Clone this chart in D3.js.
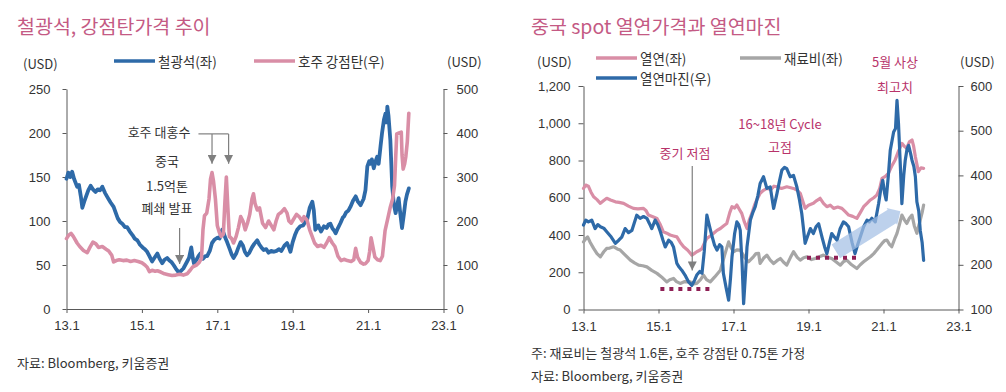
<!DOCTYPE html>
<html>
<head>
<meta charset="utf-8">
<script src="https://cdn.jsdelivr.net/npm/d3@7"></script>
<style>
  body { margin: 0; background: #fff; }
  svg { font-family: "Noto Sans CJK KR", "Noto Sans", sans-serif; }
  .tick text { fill: #333; font-size: 13px; }
  .axis path, .axis line { stroke: #595959; }
</style>
</head>
<body>
<svg id="chart" width="1006" height="392"></svg>
<script>
// x: decimal year (13 = Jan 2013)
const xTicks = [13, 15, 17, 19, 21, 23];
const oreTicks = [0, 50, 100, 150, 200, 250];
const coalTicks = [0, 100, 200, 300, 400, 500];
const hrcTicks = [0, 200, 400, 600, 800, 1000, 1200];
const marginTicks = [100, 200, 300, 400, 500, 600];

// 철광석 (USD, left axis)
const ironOre = [
  [13.00,148],[13.05,155],[13.10,150],[13.15,156],[13.20,148],[13.28,139],[13.33,141],[13.38,128],[13.42,115],
  [13.47,122],[13.52,128],[13.58,135],[13.64,140],[13.70,136],[13.77,133],[13.83,136],[13.89,135],[13.95,139],
  [14.02,132],[14.10,126],[14.17,121],[14.25,116],[14.30,110],[14.36,103],[14.42,99],[14.48,97],[14.55,93],
  [14.61,93],[14.68,88],[14.75,84],[14.81,80],[14.88,78],[14.95,73],[15.02,70],[15.08,68],[15.14,65],[15.20,60],
  [15.27,54],[15.33,58],[15.41,63],[15.47,57],[15.54,52],[15.60,56],[15.67,58],[15.73,55],[15.79,53],[15.84,50],
  [15.90,46],[15.97,42],[16.03,43],[16.10,46],[16.15,50],[16.20,54],[16.25,58],[16.31,70],[16.35,58],[16.38,52],
  [16.45,56],[16.50,60],[16.55,63],[16.62,57],[16.68,60],[16.73,60],[16.80,66],[16.86,75],[16.93,79],[17.00,81],
  [17.06,80],[17.13,90],[17.17,86],[17.22,80],[17.26,76],[17.33,68],[17.38,62],[17.43,58],[17.50,63],[17.56,70],
  [17.62,76],[17.68,72],[17.73,65],[17.79,61],[17.85,64],[17.92,70],[17.98,74],[18.06,78],[18.12,73],[18.17,70],
  [18.23,67],[18.30,68],[18.36,64],[18.43,66],[18.50,65],[18.57,66],[18.64,68],[18.70,66],[18.78,72],[18.85,75],
  [18.90,70],[18.94,65],[19.00,76],[19.06,84],[19.12,90],[19.20,94],[19.28,95],[19.33,99],[19.38,101],[19.45,115],
  [19.52,122],[19.56,112],[19.60,90],[19.68,95],[19.75,88],[19.83,94],[19.90,92],[19.95,96],[20.00,97],[20.05,92],
  [20.10,89],[20.14,86],[20.20,92],[20.27,98],[20.33,104],[20.36,105],[20.42,110],[20.48,112],[20.53,116],[20.60,123],
  [20.67,128],[20.73,122],[20.80,118],[20.88,125],[20.93,135],[20.98,162],[21.03,168],[21.06,165],[21.10,170],
  [21.15,160],[21.20,168],[21.24,173],[21.28,165],[21.33,185],[21.37,200],[21.42,215],[21.46,222],[21.49,212],
  [21.51,230],[21.54,220],[21.59,192],[21.64,139],[21.68,120],[21.73,109],[21.77,118],[21.81,126],[21.85,110],
  [21.90,92],[21.95,108],[21.99,122],[22.03,130],[22.08,137]
];

// 호주 강점탄 (USD, right axis)
const cokingCoal = [
  [13.00,160],[13.06,168],[13.12,172],[13.18,165],[13.28,150],[13.35,142],[13.45,133],[13.55,128],[13.62,140],
  [13.70,152],[13.78,148],[13.85,140],[13.95,142],[14.05,136],[14.12,132],[14.20,122],[14.25,107],[14.32,110],
  [14.40,112],[14.50,110],[14.60,111],[14.70,108],[14.80,110],[14.90,108],[15.00,105],[15.08,100],[15.14,95],
  [15.20,85],[15.27,88],[15.35,86],[15.41,87],[15.50,84],[15.60,80],[15.70,78],[15.80,76],[15.90,77],[16.00,79],
  [16.10,77],[16.20,80],[16.28,88],[16.35,96],[16.45,100],[16.52,106],[16.58,115],[16.62,180],[16.66,212],
  [16.72,218],[16.78,250],[16.82,295],[16.86,310],[16.90,290],[16.95,250],[17.00,190],[17.05,175],[17.10,165],
  [17.16,170],[17.20,240],[17.24,300],[17.28,230],[17.32,165],[17.38,160],[17.43,150],[17.50,165],[17.56,185],
  [17.62,210],[17.68,200],[17.74,180],[17.80,195],[17.86,215],[17.92,250],[17.96,262],[18.00,240],[18.06,225],
  [18.12,230],[18.20,195],[18.28,185],[18.36,200],[18.43,190],[18.50,180],[18.56,200],[18.62,215],[18.70,220],
  [18.78,228],[18.85,218],[18.90,200],[18.96,195],[19.03,205],[19.10,215],[19.17,210],[19.25,200],[19.30,210],
  [19.38,202],[19.45,180],[19.52,164],[19.58,150],[19.66,142],[19.75,145],[19.83,140],[19.90,150],[19.97,162],
  [20.05,150],[20.12,142],[20.20,120],[20.28,110],[20.36,113],[20.45,110],[20.55,108],[20.62,112],[20.67,138],
  [20.72,118],[20.80,106],[20.88,102],[20.93,103],[21.00,110],[21.04,130],[21.08,162],[21.13,140],[21.18,118],
  [21.25,112],[21.32,110],[21.38,120],[21.45,178],[21.52,205],[21.59,232],[21.65,250],[21.70,280],[21.73,340],
  [21.76,398],[21.82,400],[21.88,402],[21.90,350],[21.93,318],[21.97,330],[22.00,346],[22.04,380],[22.08,445]
];

// 열연 (USD, left axis)
const hrcPrice = [
  [13.00,650],[13.06,668],[13.13,662],[13.20,630],[13.27,605],[13.36,590],[13.45,570],[13.54,585],[13.62,597],
  [13.72,588],[13.85,578],[13.95,575],[14.07,570],[14.20,555],[14.33,543],[14.45,540],[14.60,543],[14.67,530],
  [14.73,507],[14.85,498],[14.96,489],[15.05,455],[15.13,417],[15.22,410],[15.31,400],[15.40,395],[15.49,390],
  [15.58,360],[15.67,337],[15.78,318],[15.89,292],[15.95,300],[16.02,310],[16.10,318],[16.16,328],[16.22,355],
  [16.29,382],[16.38,395],[16.47,409],[16.56,425],[16.65,435],[16.74,450],[16.82,462],[16.90,520],[16.96,552],
  [17.03,545],[17.09,561],[17.15,540],[17.22,516],[17.29,470],[17.36,435],[17.42,480],[17.49,516],[17.56,560],
  [17.62,588],[17.71,624],[17.80,640],[17.89,650],[18.00,645],[18.08,662],[18.16,659],[18.28,650],[18.42,659],
  [18.50,655],[18.60,650],[18.70,640],[18.78,624],[18.85,580],[18.91,543],[19.00,560],[19.13,570],[19.22,585],
  [19.31,597],[19.40,570],[19.49,552],[19.58,560],[19.67,543],[19.78,550],[19.89,543],[19.98,525],[20.07,507],
  [20.18,500],[20.29,489],[20.38,520],[20.47,552],[20.56,570],[20.65,588],[20.74,600],[20.82,614],[20.90,650],
  [20.96,704],[21.05,715],[21.13,731],[21.22,770],[21.31,803],[21.40,850],[21.49,892],[21.56,875],[21.62,866],
  [21.69,900],[21.76,910],[21.80,880],[21.85,820],[21.90,770],[21.93,740],[22.00,760],[22.07,758]
];

// 재료비 (USD, left axis)
const rawCost = [
  [13.00,363],[13.06,380],[13.11,390],[13.18,360],[13.27,328],[13.36,300],[13.45,283],[13.54,310],[13.62,328],
  [13.70,330],[13.80,337],[13.90,325],[13.98,319],[14.10,295],[14.25,265],[14.36,250],[14.47,238],[14.58,235],
  [14.69,229],[14.82,210],[14.96,194],[15.08,175],[15.22,148],[15.30,160],[15.40,167],[15.48,150],[15.58,140],
  [15.70,150],[15.85,148],[15.94,138],[16.02,140],[16.12,160],[16.20,184],[16.28,160],[16.38,148],[16.50,175],
  [16.65,211],[16.76,290],[16.87,363],[16.94,330],[17.00,310],[17.09,320],[17.18,319],[17.30,280],[17.40,256],
  [17.47,270],[17.53,283],[17.60,300],[17.67,301],[17.71,247],[17.80,275],[17.89,292],[17.98,265],[18.07,247],
  [18.16,262],[18.25,274],[18.33,255],[18.42,238],[18.52,280],[18.60,310],[18.70,280],[18.78,265],[18.87,278],
  [18.96,283],[19.08,268],[19.18,274],[19.30,285],[19.40,292],[19.52,280],[19.62,274],[19.74,255],[19.85,238],
  [19.94,258],[20.02,265],[20.15,240],[20.29,220],[20.38,240],[20.47,256],[20.56,270],[20.65,283],[20.74,300],
  [20.82,319],[20.90,340],[20.96,355],[21.03,370],[21.09,373],[21.16,350],[21.22,337],[21.30,380],[21.36,409],
  [21.43,460],[21.49,507],[21.56,480],[21.62,462],[21.69,490],[21.76,507],[21.82,450],[21.89,409],[21.94,450],
  [21.98,480],[22.03,520],[22.07,561]
];

// 열연마진 (USD, right axis)
const hrcMargin = [
  [13.00,289],[13.06,300],[13.13,296],[13.22,300],[13.31,281],[13.38,290],[13.45,285],[13.54,282],[13.62,274],
  [13.74,262],[13.85,248],[13.94,255],[14.02,262],[14.11,281],[14.20,272],[14.29,277],[14.36,295],[14.42,311],
  [14.51,304],[14.60,308],[14.69,304],[14.76,292],[14.82,281],[14.91,300],[14.98,290],[15.05,274],[15.12,255],
  [15.18,240],[15.27,255],[15.34,250],[15.40,240],[15.49,203],[15.55,195],[15.62,188],[15.72,175],[15.80,162],
  [15.89,154],[15.96,165],[16.02,177],[16.10,185],[16.16,181],[16.22,230],[16.29,311],[16.35,290],[16.42,266],
  [16.49,245],[16.56,233],[16.63,245],[16.69,240],[16.73,181],[16.80,150],[16.87,121],[16.92,170],[16.96,218],
  [17.03,270],[17.09,296],[17.14,290],[17.18,277],[17.23,200],[17.27,113],[17.32,180],[17.36,240],[17.45,300],
  [17.52,318],[17.58,330],[17.65,355],[17.71,382],[17.80,397],[17.89,371],[17.98,374],[18.07,326],[18.16,360],
  [18.22,385],[18.29,412],[18.36,418],[18.42,415],[18.51,397],[18.60,400],[18.69,374],[18.76,345],[18.82,315],
  [18.91,248],[18.98,265],[19.05,281],[19.13,270],[19.20,285],[19.27,292],[19.36,262],[19.43,240],[19.49,225],
  [19.56,250],[19.62,270],[19.69,262],[19.76,255],[19.84,280],[19.93,296],[20.00,292],[20.07,285],[20.16,250],
  [20.24,225],[20.31,245],[20.38,262],[20.47,285],[20.56,300],[20.62,296],[20.69,304],[20.78,296],[20.87,337],
  [20.93,370],[20.98,389],[21.03,360],[21.07,345],[21.13,400],[21.18,456],[21.27,497],[21.32,505],[21.36,568],
  [21.40,516],[21.45,420],[21.49,337],[21.54,400],[21.58,434],[21.63,460],[21.67,467],[21.72,450],[21.76,434],
  [21.81,420],[21.85,397],[21.89,341],[21.94,320],[21.98,277],[22.03,250],[22.07,210]
];

const svg = d3.select("#chart");
const pink = "#d98ea6", blue = "#2e6aa8", gray = "#a6a6a6";
const titleColor = "#c45a84", noteColor = "#b8336a";

svg.append("defs").append("marker")
  .attr("id", "arrow")
  .attr("viewBox", "0 0 10 10")
  .attr("refX", 10).attr("refY", 5)
  .attr("markerWidth", 9).attr("markerHeight", 9)
  .attr("markerUnits", "userSpaceOnUse")
  .attr("orient", "auto")
  .append("path").attr("d", "M0,0 L10,5 L0,10 z").attr("fill", "#7f7f7f");

function addText(x, y, str, opts = {}) {
  return svg.append("text")
    .attr("x", x).attr("y", y)
    .attr("text-anchor", opts.anchor || "start")
    .attr("dominant-baseline", "central")
    .attr("fill", opts.color || "#333")
    .style("font-size", (opts.size || 13) + "px")
    .text(str);
}

function legendItem(x, y, color, label) {
  svg.append("line")
    .attr("x1", x).attr("x2", x + 41).attr("y1", y).attr("y2", y)
    .attr("stroke", color).attr("stroke-width", 3.5);
  addText(x + 44, y, label, { size: 13.5 });
}

function drawLine(g, data, x, y, color, w) {
  const line = d3.line().x(d => x(d[0])).y(d => y(d[1]));
  g.append("path")
    .datum(data)
    .attr("d", line)
    .attr("fill", "none")
    .attr("stroke", color)
    .attr("stroke-width", w)
    .attr("stroke-linejoin", "round")
    .attr("stroke-linecap", "round");
}

function axisLabels(g) {
  g.attr("class", "axis");
  g.selectAll(".tick text").style("font-size", "13px").attr("fill", "#333");
}

//---left panel: 철광석, 강점탄---
{
  const x = d3.scaleLinear().domain([13, 23]).range([66.5, 443.5]);
  const yL = d3.scaleLinear().domain([0, 250]).range([309, 89]);
  const yR = d3.scaleLinear().domain([0, 500]).range([309, 89]);

  addText(17, 25, "철광석, 강점탄가격 추이", { color: titleColor, size: 19.5 });
  addText(23, 63, "(USD)");
  addText(447, 61, "(USD)");
  legendItem(114, 61, blue, "철광석(좌)");
  legendItem(254, 61, pink, "호주 강점탄(우)");

  svg.append("g").attr("transform", "translate(0,309)")
    .call(d3.axisBottom(x).tickValues(xTicks).tickFormat(d => d + ".1").tickSize(4).tickSizeOuter(0).tickPadding(8))
    .call(axisLabels);
  svg.append("g").attr("transform", "translate(66.5,0)")
    .call(d3.axisLeft(yL).tickValues(oreTicks).tickSize(4).tickSizeOuter(0).tickPadding(12))
    .call(axisLabels);
  svg.append("g").attr("transform", "translate(443.5,0)")
    .call(d3.axisRight(yR).tickValues(coalTicks).tickSize(4).tickSizeOuter(0).tickPadding(9))
    .call(axisLabels);

  const plot = svg.append("g");
  drawLine(plot, ironOre, x, yL, blue, 3.8);
  drawLine(plot, cokingCoal, x, yR, pink, 3.6);

  // annotations
  addText(159, 131, "호주 대홍수", { anchor: "middle" });
  const gArr = svg.append("g").attr("stroke", "#7f7f7f").attr("fill", "none").attr("stroke-width", 1.2);
  gArr.append("path")
    .attr("d", `M${x(16.5)},${yL(199)} H${x(17.3)}`);
  [16.86, 17.3].forEach(t => {
    gArr.append("line")
      .attr("x1", x(t)).attr("x2", x(t)).attr("y1", yL(199)).attr("y2", yL(165))
      .attr("marker-end", "url(#arrow)");
  });
  addText(167, 160, "중국", { anchor: "middle" });
  addText(167, 185, "1.5억톤", { anchor: "middle" });
  addText(167, 207, "폐쇄 발표", { anchor: "middle" });
  gArr.append("line")
    .attr("x1", x(16.0)).attr("x2", x(16.0)).attr("y1", yL(92)).attr("y2", yL(51))
    .attr("marker-end", "url(#arrow)");

  addText(17, 362, "자료: Bloomberg, 키움증권");
}

//---right panel: 열연가격과 열연마진---
{
  const x = d3.scaleLinear().domain([13, 23]).range([583.5, 958.5]);
  const yL = d3.scaleLinear().domain([0, 1200]).range([309.5, 86]);
  const yR = d3.scaleLinear().domain([100, 600]).range([309.5, 86]);

  addText(531, 25, "중국 spot 열연가격과 열연마진", { color: titleColor, size: 19.5 });
  addText(537, 61, "(USD)");
  addText(960, 61, "(USD)");
  legendItem(596, 58, pink, "열연(좌)");
  legendItem(740, 58, gray, "재료비(좌)");
  legendItem(596, 78, blue, "열연마진(우)");

  svg.append("g").attr("transform", "translate(0,309.5)")
    .call(d3.axisBottom(x).tickValues(xTicks).tickFormat(d => d + ".1").tickSize(4).tickSizeOuter(0).tickPadding(8))
    .call(axisLabels);
  svg.append("g").attr("transform", "translate(583.5,0)")
    .call(d3.axisLeft(yL).tickValues(hrcTicks).tickFormat(d3.format(",")).tickSize(5).tickSizeOuter(0).tickPadding(8))
    .call(axisLabels);
  svg.append("g").attr("transform", "translate(958.5,0)")
    .call(d3.axisRight(yR).tickValues(marginTicks).tickSize(5).tickSizeOuter(0).tickPadding(7))
    .call(axisLabels);

  const plot = svg.append("g");
  drawLine(plot, rawCost, x, yL, gray, 3.2);
  drawLine(plot, hrcPrice, x, yL, pink, 3.2);
  drawLine(plot, hrcMargin, x, yR, blue, 3.2);

  // dotted bottoms
  [[15.05, 16.46, 110], [18.96, 20.4, 278]].forEach(([a, b, v]) => {
    svg.append("line")
      .attr("x1", x(a)).attr("x2", x(b)).attr("y1", yL(v)).attr("y2", yL(v))
      .attr("stroke", "#8e1f55").attr("stroke-width", 4).attr("stroke-dasharray", "4,5");
  });

  // translucent trend arrow
  const p0 = [x(19.73), yR(230)], p1 = [x(21.45), yR(320)];
  const dx = p1[0] - p0[0], dy = p1[1] - p0[1], len = Math.hypot(dx, dy);
  const ux = dx / len, uy = dy / len, nx = -uy, ny = ux;
  const hw = 8, hh = 10, hl = 10;
  const bx = p1[0] - ux * hl, by = p1[1] - uy * hl;
  const pts = [
    [p0[0] + nx * hw, p0[1] + ny * hw], [bx + nx * hw, by + ny * hw], [bx + nx * hh, by + ny * hh],
    p1, [bx - nx * hh, by - ny * hh], [bx - nx * hw, by - ny * hw], [p0[0] - nx * hw, p0[1] - ny * hw]
  ];
  svg.append("path")
    .attr("d", "M" + pts.map(p => p.join(",")).join("L") + "Z")
    .attr("fill", "#a3bfe4").attr("opacity", 0.72);

  // annotations
  addText(685, 152, "중기 저점", { anchor: "middle", color: noteColor });
  svg.append("line")
    .attr("x1", x(15.9)).attr("x2", x(15.9)).attr("y1", 166).attr("y2", yL(210))
    .attr("stroke", "#7f7f7f").attr("stroke-width", 1.2).attr("marker-end", "url(#arrow)");
  addText(780, 123, "16~18년 Cycle", { anchor: "middle", color: noteColor });
  addText(780, 146, "고점", { anchor: "middle", color: noteColor });
  addText(895, 61, "5월 사상", { anchor: "middle", color: noteColor });
  addText(895, 86, "최고치", { anchor: "middle", color: noteColor });

  addText(531, 352, "주: 재료비는 철광석 1.6톤, 호주 강점탄 0.75톤 가정");
  addText(531, 375, "자료: Bloomberg, 키움증권");
}
</script>
</body>
</html>
